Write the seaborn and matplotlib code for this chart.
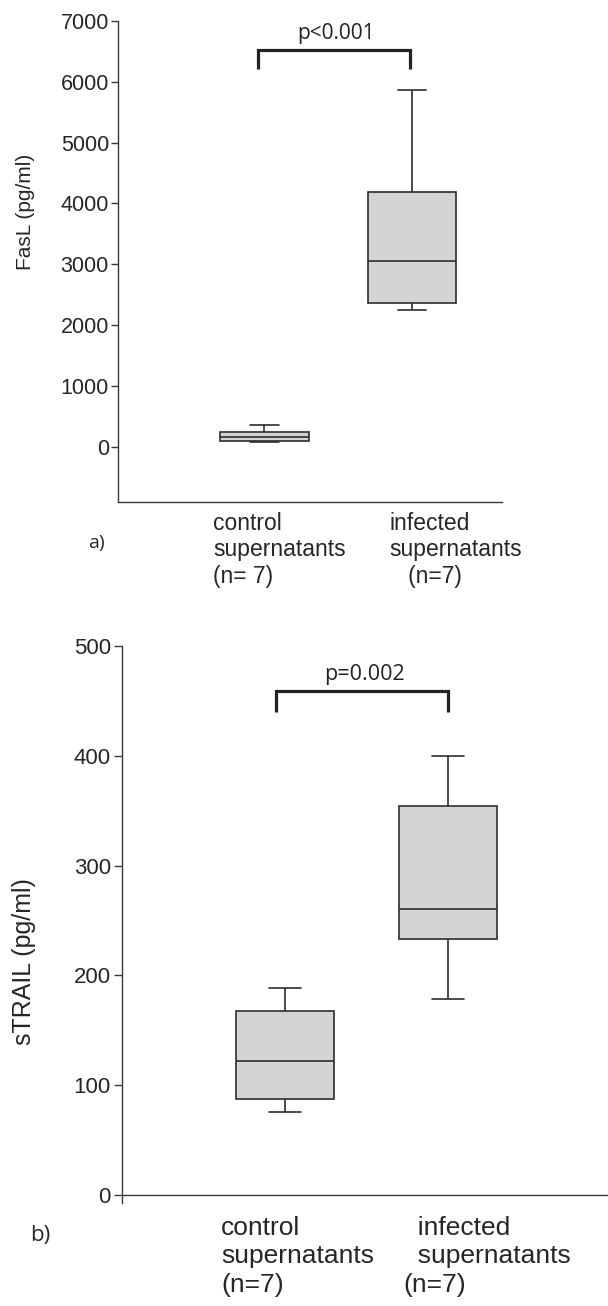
import numpy as np
import pandas as pd
import matplotlib
matplotlib.use("Agg")
import matplotlib.pyplot as plt
import seaborn as sns
from matplotlib.transforms import ScaledTranslation

sns.set_theme(style="ticks")
plt.rcParams['font.family'] = ['Liberation Sans', 'DejaVu Sans']

# ---- data (min, Q1, median, Q3, max) ----
groups = ["control", "infected"]
fasl_control = [85, 100, 165, 245, 360]
fasl_infected = [2250, 2370, 3060, 4190, 5870]
trail_control = [75, 87, 122, 167, 188]
trail_infected = [178, 233, 260, 354, 400]

fasl_ticks = [0, 1000, 2000, 3000, 4000, 5000, 6000, 7000]
trail_ticks = [0, 100, 200, 300, 400, 500]
top_labels = ["control\nsupernatants\n(n= 7)", "infected\nsupernatants\n   (n=7)"]
bottom_labels = ["control\nsupernatants\n(n=7)", "  infected\n  supernatants\n(n=7)"]
p_top = "p<0.001"
p_bottom = "p=0.002"
ylabel_top = "FasL (pg/ml)"
ylabel_bottom = "sTRAIL (pg/ml)"


def seven(s):
    mn, q1, md, q3, mx = s
    return [mn, q1, q1, md, q3, q3, mx]


def frame(c, i):
    return pd.DataFrame({"group": [groups[0]] * 7 + [groups[1]] * 7,
                         "value": seven(c) + seven(i)})


df_top = frame(fasl_control, fasl_infected)
df_bot = frame(trail_control, trail_infected)

W, H = 608, 1306
fig = plt.figure(figsize=(W / 100, H / 100), dpi=100)
edge = "#2e2e2e"
fillc = "#d3d4d6"
spine_c = "#3a3a3a"


def px_axes(l, r, t, b):
    return fig.add_axes([l / W, 1 - b / H, (r - l) / W, (b - t) / H])


ax1 = px_axes(118, 502, 21, 502)
ax2 = px_axes(122, 608, 646, 1203)


def draw(ax, df, capw):
    sns.boxplot(data=df, x="group", y="value", ax=ax, width=0.6, color=fillc,
                saturation=1, linecolor=edge, linewidth=1.2, whis=(0, 100),
                fliersize=0)
    # shorten caps
    for ln in ax.lines:
        xd = np.asarray(ln.get_xdata(), dtype=float)
        yd = np.asarray(ln.get_ydata(), dtype=float)
        if len(xd) == 2 and yd[0] == yd[1] and abs(abs(xd[1] - xd[0]) - 0.3) < 1e-6:
            c = xd.mean()
            ln.set_xdata([c - capw / 2, c + capw / 2])


draw(ax1, df_top, 0.19)
draw(ax2, df_bot, 0.2)

for ax in (ax1, ax2):
    sns.despine(ax=ax)
    for s in ("left", "bottom"):
        ax.spines[s].set_color(spine_c)
        ax.spines[s].set_linewidth(1.0)
    ax.set_xlabel("")
    ax.grid(False)

# top panel axes
ax1.set_xlim(-0.993, 1.61)
ax1.set_ylim(-909, 7000)
ax1.set_yticks(fasl_ticks)
ax1.set_yticklabels([str(t) for t in fasl_ticks])
ax1.tick_params(axis="y", length=5, width=1, color=spine_c, labelsize=15.5, pad=1.5)
ax1.set_ylabel(ylabel_top, fontsize=15)
ax1.yaxis.set_label_coords(-0.215, 0.603)
ax1.set_xticks([0, 1])
ax1.set_xticklabels(top_labels, fontsize=16.5, ha="left", va="top", linespacing=1.2)
ax1.tick_params(axis="x", length=0, pad=7)
for lab, dx in zip(ax1.get_xticklabels(), [-51.5, -23]):
    lab.set_transform(lab.get_transform() + ScaledTranslation(dx / 100, 0, fig.dpi_scale_trans))

# bottom panel axes
ax2.set_xlim(-1.0, 1.98)
ax2.set_ylim(-7.5, 500)
ax2.spines["bottom"].set_position(("data", 0))
ax2.set_yticks(trail_ticks)
ax2.set_yticklabels([str(t) for t in trail_ticks])
ax2.tick_params(axis="y", length=6, width=1, color=spine_c, labelsize=16, pad=2)
ax2.set_ylabel(ylabel_bottom, fontsize=18)
ax2.yaxis.set_label_coords(-0.177, 0.433)
ax2.set_xticks([0, 1])
ax2.set_xticklabels(bottom_labels, fontsize=19, ha="left", va="top", linespacing=1.25)
ax2.tick_params(axis="x", length=0, pad=15)
for lab, dx in zip(ax2.get_xticklabels(), [-64, -45]):
    lab.set_transform(lab.get_transform() + ScaledTranslation(dx / 100, 0, fig.dpi_scale_trans))


# significance brackets
def bracket(ax, x0, x1, ylow, yhigh, ytext, text, fs):
    ax.plot([x0, x0, x1, x1], [ylow, yhigh, yhigh, ylow], color="#222222", lw=2.3,
            solid_joinstyle="miter", solid_capstyle="butt", clip_on=False)
    ax.text((x0 + x1) / 2 + 0.015, ytext, text, ha="center", va="center", fontsize=fs,
            family=["Open Sans", "DejaVu Sans"], color="#222222")


bracket(ax1, -0.044, 0.986, 6217, 6530, 6790, p_top, 15)
bracket(ax2, -0.055, 1.0, 439.5, 458.7, 474, p_bottom, 15.5)

fig.text(96 / W, 1 - 543 / H, "a)", ha="center", va="center", fontsize=14,
         family=["Open Sans", "DejaVu Sans"])
fig.text(40 / W, 1 - 1235 / H, "b)", ha="center", va="center", fontsize=16,
         family=["Open Sans", "DejaVu Sans"])

fig.savefig("out.png", dpi=100)
